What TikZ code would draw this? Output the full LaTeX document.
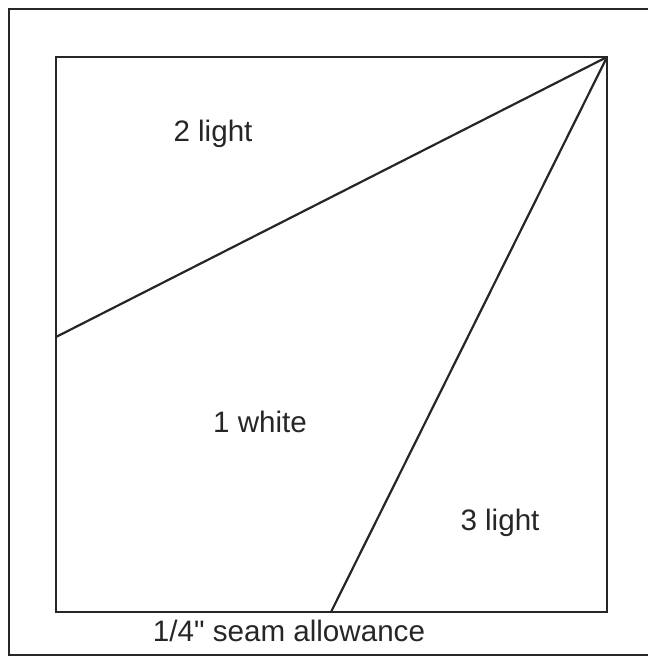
\documentclass[tikz,border=0pt]{standalone}
\usepackage{fontspec}
\setmainfont{Liberation Sans}[Ligatures=TeXOff]
\usetikzlibrary{positioning}
\tikzset{
  frame/.style={draw=black!85, line width=1.4pt},
  seam/.style={draw=black!85, line width=1.1pt},
  patch/.style={font=\fontsize{14.8}{17}\selectfont, text=black!85,
    anchor=base, inner sep=0pt}
}
\begin{document}
\begin{tikzpicture}[x=0.5pt, y=-0.5pt]
\useasboundingbox (0,0) rectangle (647,656);
% outer border
\draw[frame] (9,9) rectangle (652,655);
% block corners
\coordinate (tl) at (56,57);
\coordinate (tr) at (607,57);
\coordinate (br) at (607,612);
\coordinate (bl) at (56,612);
\draw[frame] (tl) -- (tr) -- (br) -- (bl) -- cycle;
% seam lines
\coordinate (left) at (56,337);
\coordinate (bottom) at (331,612);
\draw[seam] (tr) -- (left);
\draw[seam] (tr) -- (bottom);
% labels
\node[patch] (two) at (213,142) {2 light};
\node[patch] (one) at (260,432) {1 white};
\node[patch] (three) at (500,530) {3 light};
\node[patch] (allow) at (289,641) {1/4" seam allowance};
\end{tikzpicture}
\end{document}
